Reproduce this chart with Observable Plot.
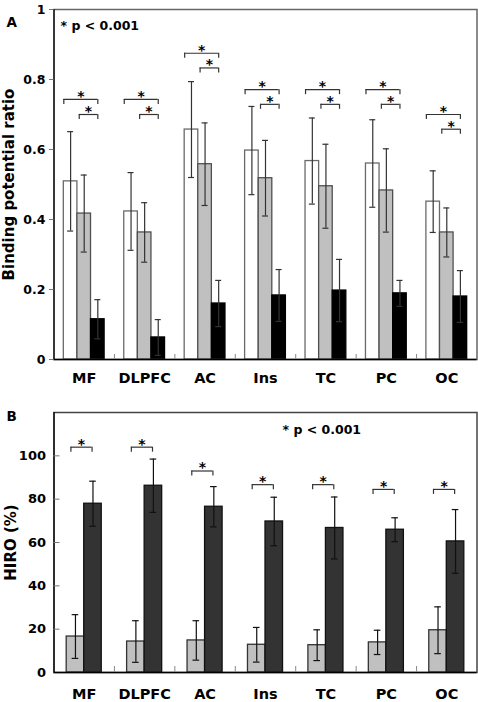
<!DOCTYPE html>
<html><head><meta charset="utf-8">
<script src="https://cdn.jsdelivr.net/npm/d3@7"></script>
<script src="https://cdn.jsdelivr.net/npm/@observablehq/plot@0.6"></script>
<style>
body{margin:0;background:#fff;}
#wrap{position:relative;width:478px;height:702px;background:#fff;}
#wrap .panel{position:absolute;left:0;}
#wrap svg{display:block;}
</style></head><body><div id="wrap"><div class="panel" id="pa" style="top:0"></div><div class="panel" id="pb" style="top:392px"></div></div>
<script>
// ---------- data ----------
const regions = ["MF", "DLPFC", "AC", "Ins", "TC", "PC", "OC"];

// Panel A: binding potential ratio (three groups: white, grey, black bars)
const bpWhite   = [0.509, 0.423, 0.657, 0.597, 0.567, 0.560, 0.451];
const bpWhiteSD = [0.142, 0.111, 0.137, 0.126, 0.123, 0.125, 0.088];
const bpGrey    = [0.417, 0.363, 0.558, 0.518, 0.495, 0.483, 0.363];
const bpGreySD  = [0.110, 0.085, 0.118, 0.108, 0.120, 0.119, 0.070];
const bpBlack   = [0.115, 0.063, 0.160, 0.183, 0.197, 0.189, 0.180];
const bpBlackSD = [0.056, 0.051, 0.066, 0.074, 0.089, 0.037, 0.074];
const sigA_upper = [0.743, 0.743, 0.875, 0.771, 0.771, 0.771, 0.700];
const sigA_lower = [0.700, 0.700, 0.833, 0.729, 0.729, 0.729, 0.658];
const ticksA = [0, 0.2, 0.4, 0.6, 0.8, 1];

// Panel B: HIRO (%)
const hiroGrey   = [16.6, 14.3, 14.8, 12.8, 12.6, 13.9, 19.5];
const hiroGreySD = [10.1, 9.6, 9.1, 8.0, 7.1, 5.6, 10.8];
const hiroDark   = [77.9, 86.2, 76.5, 69.7, 66.7, 65.9, 60.5];
const hiroDarkSD = [10.4, 12.3, 9.3, 11.2, 14.3, 5.5, 14.7];
const sigB = [104, 104, 93, 86.7, 86.7, 84.5, 84.5];
const ticksB = [0, 20, 40, 60, 80, 100];

const sigText = "* p < 0.001";

// ---------- layout ----------
const W = 478, mL = 53.5, mR = 1.5;
const unitPx = (W - mL - mR) / regions.length;
const FONT = "DejaVu Sans";

function table(series, w) {
  const rows = [];
  regions.forEach((r, i) => series.forEach((s, j) => {
    const x1 = i + 0.5 + (j - series.length / 2) * w;
    rows.push({region: r, x1, x2: x1 + w, xc: x1 + w / 2,
      mean: s.mean[i], lo: s.mean[i] - s.sd[i], hi: s.mean[i] + s.sd[i],
      fill: s.fill, stroke: s.stroke});
  }));
  return rows;
}

function bracketMarks(br, depth) {
  return [
    Plot.ruleY(br, {x1: "a", x2: "b", y: "y", stroke: "#333", strokeWidth: 1.2}),
    Plot.ruleX(br, {x: "a", y1: d => d.y - depth, y2: "y", stroke: "#333", strokeWidth: 1.2}),
    Plot.ruleX(br, {x: "b", y1: d => d.y - depth, y2: "y", stroke: "#333", strokeWidth: 1.2}),
    Plot.text(br, {x: d => (d.a + d.b) / 2, y: "y", text: () => "*", dy: -3, fontSize: 14, fontWeight: "bold", fill: "#000"})
  ];
}

function errorMarks(tab, cap, color) {
  return [
    Plot.ruleX(tab, {x: "xc", y1: "lo", y2: "hi", stroke: color, strokeWidth: 1.2}),
    Plot.ruleY(tab, {x1: d => d.xc - cap, x2: d => d.xc + cap, y: "hi", stroke: color, strokeWidth: 1.2}),
    Plot.ruleY(tab, {x1: d => d.xc - cap, x2: d => d.xc + cap, y: "lo", stroke: color, strokeWidth: 1.2})
  ];
}

const centers = regions.map((r, i) => i + 0.5);
const bounds = d3.range(1, regions.length);

// ---------- panel A ----------
{
  const wA = 0.225;
  const tab = table([
    {mean: bpWhite, sd: bpWhiteSD, fill: "#ffffff", stroke: "#6a6a6a"},
    {mean: bpGrey, sd: bpGreySD, fill: "#c0c0c0", stroke: "#505050"},
    {mean: bpBlack, sd: bpBlackSD, fill: "#000000", stroke: "#000000"}
  ], wA);
  const br = [];
  regions.forEach((r, i) => {
    br.push({a: i + 0.5 - 1.5 * wA, b: i + 0.5 + wA, y: sigA_upper[i]});
    br.push({a: i + 0.5 - 0.5 * wA + 0.03, b: i + 0.5 + wA, y: sigA_lower[i]});
  });
  const H = 392, mT = 9, mB = 33;
  const plotH = H - mT - mB;
  const p = Plot.plot({
    width: W, height: H, marginLeft: mL, marginRight: mR, marginTop: mT, marginBottom: mB,
    x: {domain: [0, regions.length], axis: null},
    y: {domain: [0, 1], axis: null},
    style: {fontFamily: FONT, fontWeight: "bold", color: "#000", background: "#fff", overflow: "visible"},
    marks: [
      Plot.rect(tab, {x1: "x1", x2: "x2", y1: 0, y2: "mean", fill: "fill", stroke: "stroke", strokeWidth: 1.3}),
      ...errorMarks(tab, 3 / unitPx, "#333"),
      ...bracketMarks(br, 5 / plotH),
      Plot.frame({stroke: "#666", strokeWidth: 1.5}),
      Plot.ruleY([0], {stroke: "#000", strokeWidth: 1.5}),
      Plot.ruleX([0], {stroke: "#000", strokeWidth: 1.2}),
      Plot.ruleX(bounds, {stroke: "#888", insetTop: plotH - 5}),
      Plot.axisY({ticks: ticksA, tickFormat: d => d === 0 ? "0" : d === 1 ? "1" : d.toFixed(1),
        tickSize: 4.5, tickPadding: 4, fontSize: 12.5, stroke: "#777", label: null}),
      Plot.axisX({ticks: centers, tickFormat: d => regions[Math.floor(d)], tickSize: 0, tickPadding: 13.4,
        fontSize: 14.5, label: null}),
      Plot.text(["Binding potential ratio"], {text: d => d, frameAnchor: "left", textAnchor: "middle", lineAnchor: "middle", rotate: -90, dx: -44.5, fontSize: 15}),
      Plot.text(["A"], {text: d => d, frameAnchor: "top-left", lineAnchor: "middle", dx: -47.5, dy: 13.5, fontSize: 13.5, textAnchor: "start"}),
      Plot.text([sigText], {text: d => d, frameAnchor: "top-left", lineAnchor: "middle", dx: 6.5, dy: 16, fontSize: 12.5, textAnchor: "start"})
    ]
  });
  document.getElementById("pa").appendChild(p);
}

// ---------- panel B ----------
{
  const wB = 0.29;
  const tab = table([
    {mean: hiroGrey, sd: hiroGreySD, fill: "#c0c0c0", stroke: "#333333"},
    {mean: hiroDark, sd: hiroDarkSD, fill: "#333333", stroke: "#111111"}
  ], wB);
  const br = regions.map((r, i) => ({a: i + 0.28, b: i + 0.63, y: sigB[i]}));
  const H = 310, mT = 20, mB = 30;
  const plotH = H - mT - mB;
  const plotW = W - mL - mR;
  const p = Plot.plot({
    width: W, height: H, marginLeft: mL, marginRight: mR, marginTop: mT, marginBottom: mB,
    x: {domain: [0, regions.length], axis: null},
    y: {domain: [0, 120], axis: null},
    style: {fontFamily: FONT, fontWeight: "bold", color: "#000", background: "#fff", overflow: "visible"},
    marks: [
      Plot.rect(tab, {x1: "x1", x2: "x2", y1: 0, y2: "mean", fill: "fill", stroke: "stroke", strokeWidth: 1.3}),
      ...errorMarks(tab, 3.3 / unitPx, "#111"),
      ...bracketMarks(br, 5 * 120 / plotH),
      Plot.frame({stroke: "#444", strokeWidth: 1.5}),
      Plot.ruleY([0], {stroke: "#000", strokeWidth: 1.5}),
      Plot.ruleX([0], {stroke: "#000", strokeWidth: 1.2}),
      Plot.ruleX(bounds, {stroke: "#888", insetTop: plotH - 6}),
      Plot.ruleY(ticksB.slice(1), {stroke: "#777", insetRight: plotW - 6}),
      Plot.axisY({ticks: ticksB, tickSize: 0, tickPadding: 8, fontSize: 13, label: null}),
      Plot.axisX({ticks: centers, tickFormat: d => regions[Math.floor(d)], tickSize: 0, tickPadding: 16,
        fontSize: 14.5, label: null}),
      Plot.text(["HIRO (%)"], {text: d => d, frameAnchor: "left", textAnchor: "middle", lineAnchor: "middle", rotate: -90, dx: -43, fontSize: 15}),
      Plot.text(["B"], {text: d => d, frameAnchor: "top-left", lineAnchor: "middle", dx: -47.5, dy: 4, fontSize: 13.5, textAnchor: "start"}),
      Plot.text([sigText], {text: d => d, frameAnchor: "top-left", lineAnchor: "middle", dx: 228.5, dy: 17.5, fontSize: 12.5, textAnchor: "start"})
    ]
  });
  document.getElementById("pb").appendChild(p);
}
</script></body></html>
